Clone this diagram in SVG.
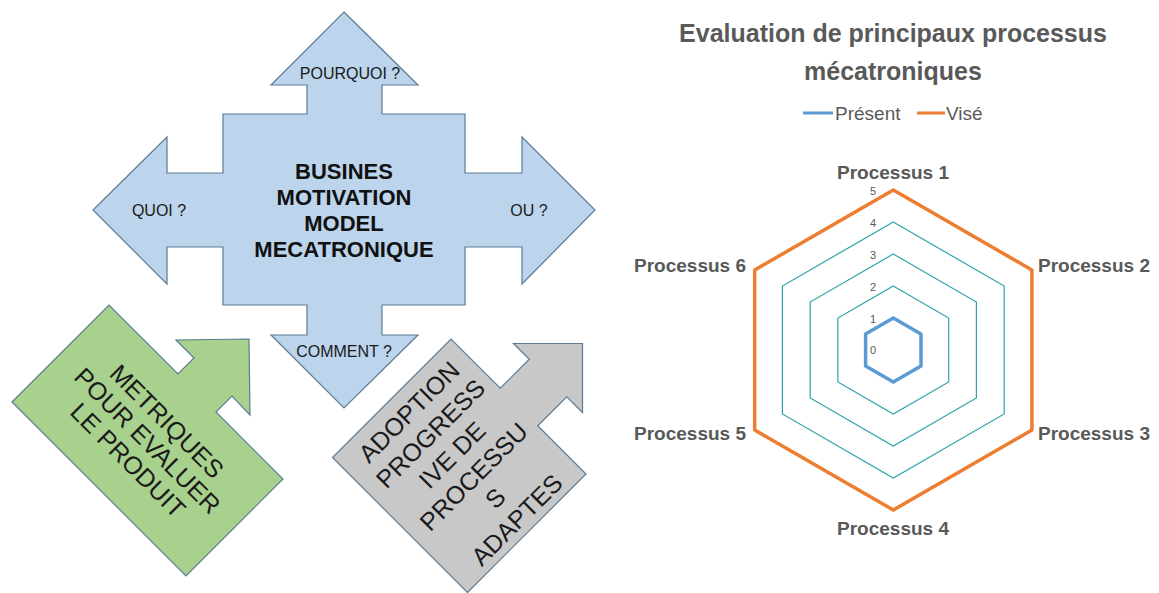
<svg xmlns="http://www.w3.org/2000/svg" width="1159" height="593" viewBox="0 0 1159 593">
<style>
.shape{stroke:#5d7a93;stroke-width:1.2;stroke-linejoin:miter}
.lbl{font-family:"Liberation Sans",Arial,sans-serif;font-size:16px;fill:#1a1a1a;text-anchor:middle}
.big{font-family:"Liberation Sans",Arial,sans-serif;font-size:22px;font-weight:bold;fill:#111;text-anchor:middle}
.rot{font-family:"Liberation Sans",Arial,sans-serif;font-size:25px;fill:#1a1a1a;text-anchor:middle}
.grid{fill:none;stroke:#2fa3a8;stroke-width:1.2}
.tick{font-family:"Liberation Sans",Arial,sans-serif;font-size:11px;fill:#595959;text-anchor:end}
.axl{font-family:"Liberation Sans",Arial,sans-serif;font-size:19px;font-weight:bold;fill:#595959}
.ttl{font-family:"Liberation Sans",Arial,sans-serif;font-size:25px;font-weight:bold;fill:#595959;text-anchor:middle}
.leg{font-family:"Liberation Sans",Arial,sans-serif;font-size:19px;fill:#595959}
</style>
<rect width="1159" height="593" fill="#ffffff"/>

<g id="bmm-cross">
<path class="shape" fill="#bcd4ec" d="M344,12 L418,85 L382,85 L382,114 L465,114 L465,173 L522,173 L522,137 L595,210 L522,284 L522,247 L465,247 L465,305 L382,305 L382,335 L418,335 L344,408 L271,335 L307,335 L307,305 L223,305 L223,247 L167,247 L167,284 L93,210 L167,137 L167,173 L223,173 L223,114 L307,114 L307,85 L271,85 Z"/>
<text class="lbl" x="350" y="79">POURQUOI ?</text>
<text class="lbl" x="159" y="216">QUOI ?</text>
<text class="lbl" x="529" y="216">OU ?</text>
<text class="lbl" x="344" y="357">COMMENT ?</text>
<text class="big" x="344" y="179">BUSINES</text>
<text class="big" x="344" y="205">MOTIVATION</text>
<text class="big" x="344" y="231">MODEL</text>
<text class="big" x="344" y="257">MECATRONIQUE</text>
</g>

<g id="metriques">
<path class="shape" fill="#a9d18e" d="M12,402 L109,305 L178,374 L194,358 L176,340 L249,339 L250,415 L232,396 L216,412 L283,479 L186,576 Z"/>
<g transform="translate(147.7,440.6) rotate(45)">
<text class="rot" x="0" y="-18.5">METRIQUES</text>
<text class="rot" x="0" y="9">POUR EVALUER</text>
<text class="rot" x="0" y="36.5">LE PRODUIT</text>
</g>
</g>

<g id="adoption">
<path class="shape" fill="#c8c8c8" d="M332.5,457.5 L451,339 L500.25,388.25 L529.25,359.25 L513.5,343.5 L582.5,343.5 L582.5,412.5 L566.75,396.75 L537.75,425.75 L586,474 L467.5,592.5 Z"/>
<g transform="translate(462.5,465.5) rotate(-45)">
<text class="rot" x="0" y="-67">ADOPTION</text>
<text class="rot" x="0" y="-36.5">PROGRESS</text>
<text class="rot" x="0" y="-6">IVE DE</text>
<text class="rot" x="0" y="24.5">PROCESSU</text>
<text class="rot" x="0" y="55">S</text>
<text class="rot" x="0" y="85.5">ADAPTES</text>
</g>
</g>

<g id="radar-chart">
<text class="ttl" x="893" y="42">Evaluation de principaux processus</text>
<text class="ttl" x="893" y="80">mécatroniques</text>
<line x1="803" y1="113" x2="833" y2="113" stroke="#5b9bd5" stroke-width="3"/>
<text class="leg" x="835" y="120">Présent</text>
<line x1="917" y1="113" x2="945" y2="113" stroke="#ed7d31" stroke-width="3"/>
<text class="leg" x="946" y="120">Visé</text>

<polygon class="grid" points="893.3,190 1031.9,270 1031.9,430 893.3,510 754.7,430 754.7,270"/>
<polygon class="grid" points="893.3,222 1004.2,286 1004.2,414 893.3,478 782.4,414 782.4,286"/>
<polygon class="grid" points="893.3,254 976.4,302 976.4,398 893.3,446 810.2,398 810.2,302"/>
<polygon class="grid" points="893.3,286 948.7,318 948.7,382 893.3,414 837.9,382 837.9,318"/>
<polygon class="grid" points="893.3,318 921,334 921,366 893.3,382 865.6,366 865.6,334"/>

<polygon id="serie-vise" points="893.3,190 1031.9,270 1031.9,430 893.3,510 754.7,430 754.7,270" fill="none" stroke="#ed7d31" stroke-width="3.5" stroke-linejoin="round"/>
<polygon id="serie-present" points="893.3,318 921,334 921,366 893.3,382 865.6,366 865.6,334" fill="none" stroke="#5b9bd5" stroke-width="3.5" stroke-linejoin="round"/>

<text class="tick" x="876" y="195">5</text>
<text class="tick" x="876" y="227">4</text>
<text class="tick" x="876" y="259">3</text>
<text class="tick" x="876" y="291">2</text>
<text class="tick" x="876" y="323">1</text>
<text class="tick" x="876" y="354">0</text>

<text class="axl" x="893" y="179" text-anchor="middle">Processus 1</text>
<text class="axl" x="1038" y="272">Processus 2</text>
<text class="axl" x="1038" y="440">Processus 3</text>
<text class="axl" x="893" y="535" text-anchor="middle">Processus 4</text>
<text class="axl" x="746" y="440" text-anchor="end">Processus 5</text>
<text class="axl" x="746" y="272" text-anchor="end">Processus 6</text>
</g>
</svg>
